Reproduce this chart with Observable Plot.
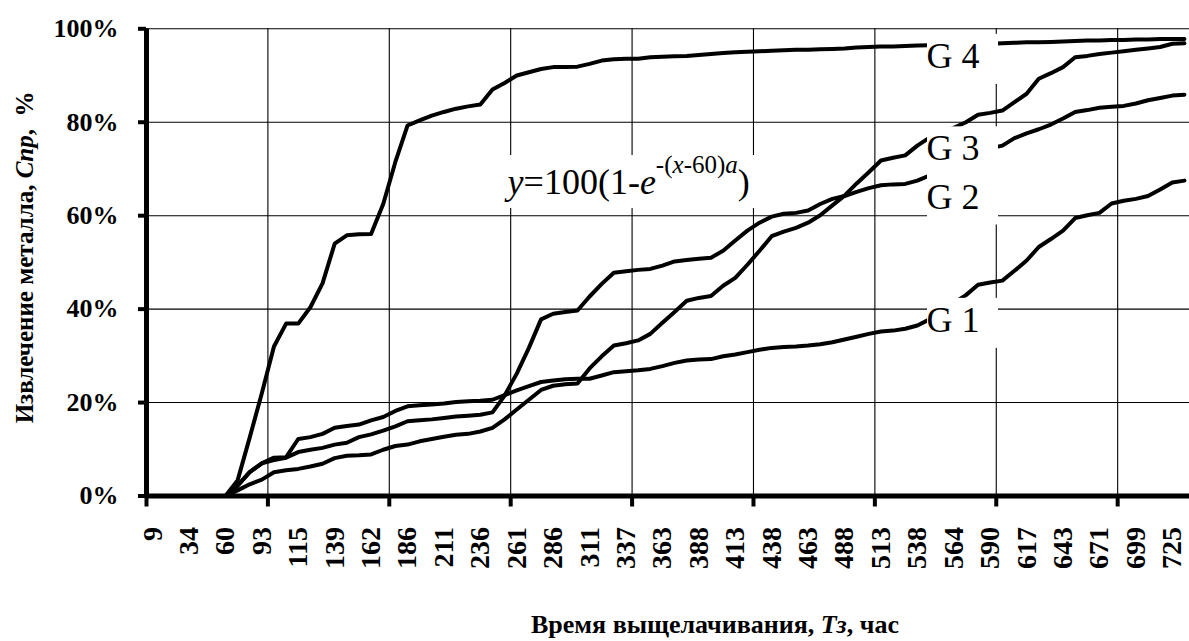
<!DOCTYPE html>
<html>
<head>
<meta charset="utf-8">
<script src="https://cdn.jsdelivr.net/npm/d3@7"></script>
<script src="https://cdn.jsdelivr.net/npm/@observablehq/plot@0.6"></script>
<style>
  html, body { margin: 0; padding: 0; background: #fff; }
  #chart svg { display: block; }
  #chart svg text { font-family: "Liberation Serif", "Times New Roman", serif; }
</style>
</head>
<body>
<div id="chart"></div>
<script>
// Category axis: one category every ~8.5 h; a label is shown every 3rd category
const hourLabels = [9, 34, 60, 93, 115, 139, 162, 186, 211, 236, 261, 286, 311, 337, 363, 388, 413, 438, 463, 488, 513, 538, 564, 590, 617, 643, 671, 699, 725];
const categoryCount = 86;

// Extraction, % (per category index 0..85)
const g1 = [null, null, null, 0, 0, 0, 0, 2.2, 5.1, 7.0, 8.2, 8.3, 12.2, 12.6, 13.3, 14.6, 15.0, 15.3, 16.2, 16.9,
  18.2, 19.2, 19.4, 19.6, 19.8, 20.1, 20.3, 20.4, 20.6, 21.6, 22.6, 23.5, 24.4, 24.7, 25.0, 25.1, 25.1, 25.8, 26.5, 26.7,
  26.9, 27.2, 27.8, 28.5, 29.0, 29.2, 29.3, 29.9, 30.3, 30.8, 31.3, 31.7, 31.9, 32.0, 32.2, 32.5, 32.9, 33.5, 34.1, 34.7,
  35.2, 35.4, 35.8, 36.5, 37.8, 39.5, 41.3, 43.0, 45.2, 45.7, 46.1, 48.2, 50.4, 53.3, 55.0, 56.8, 59.5, 60.1, 60.6, 62.6,
  63.2, 63.6, 64.2, 65.6, 67.1, 67.5];
const g2 = [null, null, null, 0, 0, 0, 0, 2.2, 5.1, 7.0, 7.7, 8.2, 9.4, 9.9, 10.3, 11.0, 11.4, 12.6, 13.2, 14.0,
  14.9, 16.0, 16.2, 16.4, 16.7, 17.0, 17.2, 17.4, 17.9, 21.5, 26.2, 31.7, 37.8, 39.0, 39.4, 39.7, 42.7, 45.4, 47.8, 48.1,
  48.4, 48.6, 49.3, 50.2, 50.5, 50.8, 51.0, 52.5, 54.7, 56.8, 58.5, 59.8, 60.4, 60.6, 61.1, 62.5, 63.6, 64.2, 65.1, 65.9,
  66.5, 66.7, 66.8, 67.5, 68.6, 69.2, 70.7, 72.2, 73.5, 74.4, 75.0, 76.6, 77.6, 78.5, 79.5, 80.8, 82.2, 82.6, 83.1, 83.3,
  83.5, 84.0, 84.7, 85.2, 85.7, 85.9];
const g3 = [null, null, null, 0, 0, 0, 0, 1.2, 2.5, 3.5, 5.1, 5.5, 5.8, 6.3, 6.9, 8.1, 8.6, 8.7, 8.9, 9.9,
  10.7, 11.0, 11.7, 12.2, 12.7, 13.1, 13.3, 13.8, 14.6, 16.4, 18.5, 20.6, 22.7, 23.6, 23.9, 24.1, 27.3, 29.9, 32.2, 32.7,
  33.3, 34.7, 37.1, 39.4, 41.8, 42.4, 42.8, 45.0, 46.7, 49.5, 52.5, 55.6, 56.6, 57.4, 58.5, 60.1, 62.2, 64.3, 66.9, 69.3,
  71.8, 72.4, 72.9, 75.0, 76.7, 77.8, 78.8, 80.0, 81.6, 82.0, 82.5, 84.3, 86.1, 89.3, 90.5, 91.8, 93.9, 94.2, 94.6, 94.9,
  95.2, 95.5, 95.8, 96.1, 96.8, 96.9];
const g4 = [null, null, null, 0, 0, 0, 0, 3.3, 12.5, 22.0, 32.0, 36.9, 36.9, 40.4, 45.5, 54.0, 55.8, 56.0, 56.1, 62.5,
  71.5, 79.3, 80.4, 81.4, 82.2, 82.9, 83.4, 83.8, 87.0, 88.4, 90.0, 90.7, 91.4, 91.8, 91.8, 91.9, 92.5, 93.2, 93.5, 93.6,
  93.6, 93.9, 94.0, 94.1, 94.2, 94.4, 94.6, 94.8, 95.0, 95.1, 95.2, 95.3, 95.4, 95.5, 95.5, 95.6, 95.7, 95.8, 96.0, 96.1,
  96.2, 96.2, 96.3, 96.4, 96.5, 96.6, 96.6, 96.7, 96.8, 96.8, 96.9, 97.0, 97.1, 97.1, 97.2, 97.3, 97.4, 97.5, 97.5, 97.6,
  97.6, 97.7, 97.7, 97.8, 97.8, 97.8];

const seriesNames = ["G 1", "G 2", "G 3", "G 4"];
const seriesValues = [g1, g2, g3, g4];

const yTicks = [0, 20, 40, 60, 80, 100];

// Text boxes placed on the chart (category index, value %)
const labelAnchors = [
  {name: "G 4", idx: 64, value: 94.1},
  {name: "G 3", idx: 64, value: 74.3},
  {name: "G 2", idx: 64, value: 64.0},
  {name: "G 1", idx: 64, value: 37.6}
];
const formulaAnchor = {idx: 29, value: 67.2};
const formulaParts = [
  {t: "y", it: true}, {t: "=100(1-"}, {t: "e", it: true},
  {t: "-(", sup: true}, {t: "x", it: true, sup: true}, {t: "-60)", sup: true}, {t: "a", it: true, sup: true},
  {t: ")"}
];
const formulaPlain = formulaParts.map(p => p.t).join("");

const xTitle = "Время выщелачивания, _Тз_, час";
const yTitle = "Извлечение металла, _Спр_,\u00a0 %";

// ---- derived tables ----
const rows = seriesNames.flatMap((name, s) => seriesValues[s].map((v, i) => ({series: name, i, v})));
const labelIdx = hourLabels.map((h, k) => ({idx: 3 * k, label: String(h)}));
const boundaryTicks = d3.range(0, 9).map(k => 10 * k - 0.5);

const serif = "'Liberation Serif', 'Times New Roman', serif";

const svg = Plot.plot({
  width: 1189,
  height: 641,
  marginLeft: 146,
  marginRight: 0,
  marginTop: 28.3,
  marginBottom: 145.5,
  x: {type: "linear", domain: [-0.5, categoryCount - 0.5], range: [146, 1190]},
  y: {domain: [0, 100], range: [495.5, 28.3]},
  style: {fontFamily: serif, background: "white", color: "black"},
  marks: [
    Plot.gridY(yTicks.filter(d => d > 0), {stroke: "#000", strokeOpacity: 1, strokeWidth: 1.1}),
    Plot.gridX(boundaryTicks.filter(d => d > 0), {stroke: "#000", strokeOpacity: 1, strokeWidth: 1.1}),
    Plot.line(rows, {x: "i", y: "v", z: "series", stroke: "#000", strokeWidth: 4, strokeLinejoin: "round"}),
    Plot.rect(labelAnchors, {x1: "idx", x2: "idx", y1: "value", y2: "value", fill: "white",
      insetLeft: -2, insetRight: -69, insetTop: -22, insetBottom: -28}),
    Plot.rect([formulaAnchor], {x1: "idx", x2: "idx", y1: "value", y2: "value", fill: "white",
      insetLeft: -4, insetRight: -258, insetTop: -26.5, insetBottom: -26.5}),
    Plot.text(labelAnchors, {x: "idx", y: "value", text: "name", textAnchor: "start", lineAnchor: "middle",
      dx: -3, fontSize: 36, fontFamily: serif, fill: "#000"}),
    Plot.text([formulaAnchor], {x: "idx", y: "value", text: () => formulaPlain, textAnchor: "start",
      lineAnchor: "middle", dx: 3, fontSize: 36, fontFamily: serif, fill: "#000"}),
    Plot.ruleY([0], {stroke: "#000", strokeWidth: 5}),
    Plot.ruleX([-0.5], {stroke: "#000", strokeWidth: 5}),
    Plot.axisY(yTicks, {tickSize: 8, tickPadding: 20, strokeWidth: 4, fontSize: 26, fontWeight: "bold",
      fontFamily: serif, tickFormat: d => d + "%"}),
    Plot.axisX(boundaryTicks, {tickSize: 11, strokeWidth: 4, tickFormat: () => ""}),
    Plot.text(labelIdx, {x: "idx", text: "label", frameAnchor: "bottom", rotate: -90, textAnchor: "end",
      lineAnchor: "middle", dy: 31, fontSize: 28, fontWeight: "bold", fontFamily: serif, fill: "#000"}),
    Plot.text([xTitle], {text: d => d, frameAnchor: "bottom", dx: 47, dy: 129, textAnchor: "middle",
      lineAnchor: "middle", fontSize: 26, fontWeight: "bold", fontFamily: serif, fill: "#000"}),
    Plot.text([yTitle], {text: d => d, frameAnchor: "left", rotate: -90, dx: -122, dy: -5, textAnchor: "middle",
      lineAnchor: "middle", fontSize: 25, fontWeight: "bold", fontFamily: serif, fill: "#000"})
  ]
});

// Rich text: italics and the superscript of the formula
const NS = "http://www.w3.org/2000/svg";
d3.select(svg).selectAll("text").each(function() {
  const t = this.textContent;
  if (t === formulaPlain) {
    this.textContent = "";
    let inSup = false;
    formulaParts.forEach(p => {
      const ts = document.createElementNS(NS, "tspan");
      ts.textContent = p.t;
      if (p.it) ts.setAttribute("font-style", "italic");
      if (p.sup) {
        ts.setAttribute("font-size", 25);
        if (!inSup) ts.setAttribute("dy", -21);
      } else if (inSup) {
        ts.setAttribute("dy", 21);
      }
      inSup = !!p.sup;
      this.appendChild(ts);
    });
  } else if (t.includes("_")) {
    const parts = t.split("_");
    this.textContent = "";
    parts.forEach((p, k) => {
      if (!p) return;
      const ts = document.createElementNS(NS, "tspan");
      ts.textContent = p;
      if (k % 2) ts.setAttribute("font-style", "italic");
      this.appendChild(ts);
    });
  }
});

document.getElementById("chart").appendChild(svg);
</script>
</body>
</html>
